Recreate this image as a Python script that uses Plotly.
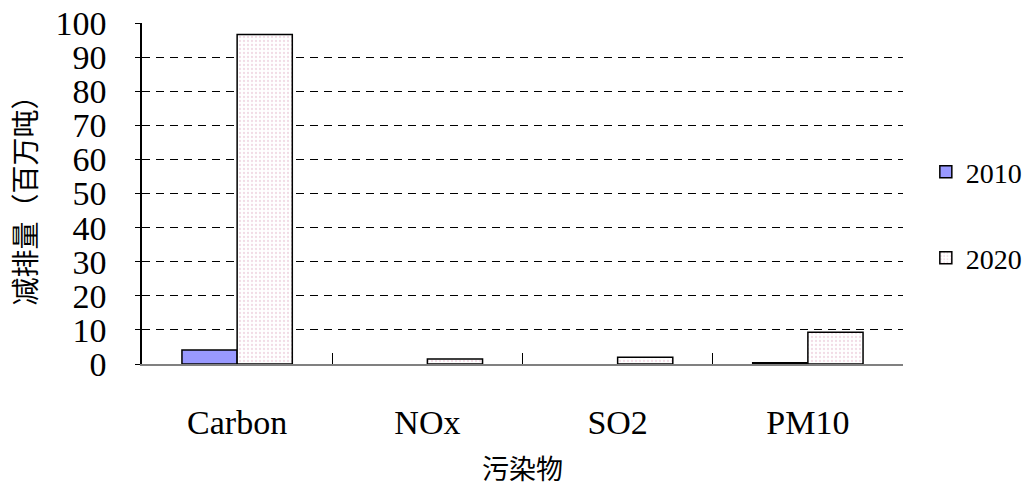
import plotly.graph_objects as go

# Pollutant categories and reduction amounts (million tonnes)
categories = ["Carbon", "NOx", "SO2", "PM10"]
values_2010 = [4.1, 0, 0, 0.4]
values_2020 = [96.6, 1.5, 2.0, 9.3]
series_names = ["2010", "2020"]
y_ticks = list(range(0, 101, 10))

serif = "Liberation Serif"
cjk = "Noto Sans CJK SC"

# no outline on bars with zero height
outline_2010 = [1.5 if v > 0 else 0 for v in values_2010]

fig = go.Figure()
fig.add_trace(go.Bar(
    x=categories, y=values_2010, name=series_names[0],
    marker=dict(color="#9999ff", line=dict(color="black", width=outline_2010)),
    legend="legend", showlegend=True,
))
fig.add_trace(go.Bar(
    x=categories, y=values_2020, name=series_names[1],
    marker=dict(
        color="white",
        line=dict(color="black", width=1.5),
        pattern=dict(shape=".", fgcolor="#f2dce6", bgcolor="white",
                     size=4, solidity=0.25, fillmode="replace"),
    ),
    legend="legend2", showlegend=True,
))

legend_common = dict(
    x=1.03, xanchor="left", yanchor="middle",
    font=dict(family=serif, size=28, color="black"),
    bgcolor="rgba(0,0,0,0)", itemwidth=30, visible=True,
)

fig.update_layout(
    width=1029, height=487,
    margin=dict(l=142, r=126, t=23, b=123, autoexpand=False),
    paper_bgcolor="white", plot_bgcolor="white",
    showlegend=True,
    barmode="group", bargap=0.42, bargroupgap=0,
    legend=dict(y=0.563, **legend_common),
    legend2=dict(y=0.311, **legend_common),
    xaxis=dict(
        type="category",
        showline=True, linecolor="#808080", linewidth=2,
        ticks="inside", ticklen=11, tickwidth=1, tickcolor="black",
        tickson="boundaries", showgrid=False,
        tickfont=dict(family=serif, size=34, color="black"),
        ticklabelstandoff=27,
        title=dict(text="污染物", font=dict(family=cjk, size=27, color="black"),
                   standoff=20),
        automargin=False,
    ),
    yaxis=dict(
        range=[0, 100], tickvals=y_ticks,
        showline=True, linecolor="black", linewidth=1.5,
        ticks="outside", ticklen=5, tickcolor="black",
        showgrid=True, gridcolor="black", gridwidth=1, griddash="8px,6px",
        zeroline=False,
        tickfont=dict(family=serif, size=34, color="black"),
        ticklabelstandoff=22,
        title=dict(text="减排量（百万吨）", font=dict(family=cjk, size=28, color="black"),
                   standoff=11),
        automargin=False,
    ),
)

fig.write_html("out.html")
